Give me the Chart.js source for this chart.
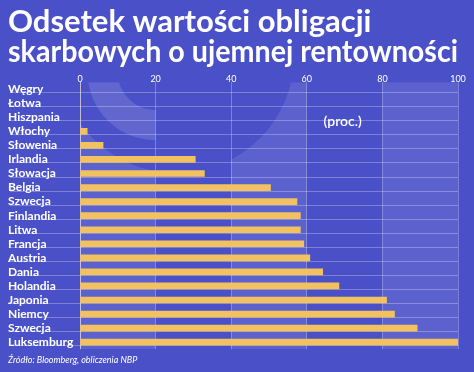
<!DOCTYPE html>
<html lang="pl">
<head>
  <meta charset="UTF-8">
  <title>Odsetek wartości obligacji skarbowych o ujemnej rentowności</title>
  <script src="https://cdn.jsdelivr.net/npm/chart.js"></script>
  <style>
    html, body { margin: 0; padding: 0; background: #4a51c8; }
    #wrap { width: 474px; height: 372px; }
  </style>
</head>
<body>
  <div id="wrap"><canvas id="chart"></canvas></div>

  <script>
    // data
    const countries = ['Węgry', 'Łotwa', 'Hiszpania', 'Włochy', 'Słowenia', 'Irlandia', 'Słowacja', 'Belgia',
      'Szwecja', 'Finlandia', 'Litwa', 'Francja', 'Austria', 'Dania', 'Holandia', 'Japonia', 'Niemcy',
      'Szwecja', 'Luksemburg'];
    const shares = [0, 0, 0, 1.9, 6.1, 30.5, 32.9, 50.4, 57.4, 58.3, 58.3, 59.2, 60.8, 64.2, 68.5, 81.1, 83.2, 89.2, 100];
    const xTicks = [0, 20, 40, 60, 80, 100];

    const BG = '#4a51c8';
    const BAR = '#f3c260';
    const BAR_THICK = 6;
    const LIGHT = 'rgba(255,255,255,0.10)';

    // background with the decorative lighter bands and arcs
    const backdrop = {
      id: 'backdrop',
      beforeDraw(chart) {
        const { ctx, chartArea: a, scales: { x, y } } = chart;
        ctx.save();
        ctx.fillStyle = BG;
        ctx.fillRect(0, 0, chart.width, chart.height);

        ctx.beginPath();
        ctx.rect(a.left, a.top, a.width, a.height);
        ctx.clip();

        // big dark disc in the upper left, lighter columns outside it
        const cx = x.getPixelForValue(25.5), cy = a.top - 27, r = 118;
        ctx.save();
        ctx.beginPath();
        ctx.rect(a.left, a.top, a.width, a.height);
        ctx.arc(cx, cy, r, 0, Math.PI * 2, true);
        ctx.clip('evenodd');
        ctx.fillStyle = LIGHT;
        [[0, 20], [40, 60]].forEach(([v0, v1]) => {
          const p0 = x.getPixelForValue(v0), p1 = x.getPixelForValue(v1);
          ctx.fillRect(p0, a.top, p1 - p0, a.height);
        });
        ctx.restore();

        // right column is light all the way
        const p80 = x.getPixelForValue(80), p100 = x.getPixelForValue(100);
        ctx.fillStyle = LIGHT;
        ctx.fillRect(p80, a.top, p100 - p80, a.height);

        // light quarter ring near the top left, stops at the 20 line
        const p20 = x.getPixelForValue(20);
        ctx.beginPath();
        ctx.rect(a.left, a.top, p20 - a.left, a.height);
        ctx.clip();
        const rx = p20, ry = a.top - 10;
        ctx.beginPath();
        ctx.arc(rx, ry, 68, 0, Math.PI * 2, false);
        ctx.arc(rx, ry, 38, 0, Math.PI * 2, true);
        ctx.fillStyle = 'rgba(255,255,255,0.13)';
        ctx.fill();
        ctx.restore();
      }
    };

    // thin rules along the bottom edge of each bar, running under the labels
    const rules = {
      id: 'rules',
      beforeDatasetsDraw(chart) {
        const { ctx, chartArea: a, scales: { y } } = chart;
        ctx.save();
        ctx.strokeStyle = 'rgba(255,255,255,0.28)';
        ctx.lineWidth = 1;
        countries.forEach((c, i) => {
          const py = Math.round(y.getPixelForValue(i) + BAR_THICK / 2) + 0.5;
          ctx.beginPath();
          ctx.moveTo(10, py);
          ctx.lineTo(a.right, py);
          ctx.stroke();
        });
        ctx.restore();
      },
      afterDraw(chart) {
        const { ctx, scales: { x, y } } = chart;
        ctx.save();
        ctx.fillStyle = '#ffffff';
        ctx.font = '600 14px Lato';
        ctx.textAlign = 'center';
        ctx.textBaseline = 'middle';
        ctx.fillText('(proc.)', x.getPixelForValue(69.5), y.getPixelForValue(2) + 4);
        ctx.restore();
      }
    };

    new Chart(document.getElementById('chart'), {
      type: 'bar',
      data: {
        labels: countries,
        datasets: [{
          data: shares,
          backgroundColor: BAR,
          borderWidth: 0,
          barThickness: BAR_THICK
        }]
      },
      options: {
        indexAxis: 'y',
        responsive: true,
        maintainAspectRatio: false,
        animation: false,
        layout: { padding: { left: 8, right: 16, top: 0, bottom: 7 } },
        plugins: {
          legend: { display: false },
          tooltip: { enabled: false },
          title: {
            display: true,
            text: ['Odsetek wartości obligacji', 'skarbowych o ujemnej rentowności'],
            align: 'start',
            color: '#ffffff',
            font: { family: 'Lato', size: 31, weight: 'bold', lineHeight: 0.97 },
            padding: { top: 7, bottom: 1 }
          },
          subtitle: {
            display: true,
            position: 'bottom',
            text: 'Źródło: Bloomberg, obliczenia NBP',
            align: 'start',
            color: '#ffffff',
            font: { family: 'Lato', size: 9, style: 'italic', lineHeight: 1.2 },
            padding: { top: 5, bottom: 0 }
          }
        },
        scales: {
          x: {
            position: 'top',
            min: 0,
            max: 100,
            afterBuildTicks(scale) { scale.ticks = xTicks.map(v => ({ value: v })); },
            afterFit(scale) { scale.height = 14; },
            ticks: { color: '#ffffff', font: { family: 'Lato', size: 9 }, padding: -2 },
            grid: {
              color: ctx => ctx.tick && ctx.tick.value === 0 ? 'rgba(255,255,255,0.6)' : 'rgba(255,255,255,0.28)',
              drawTicks: false
            },
            border: { display: false }
          },
          y: {
            afterFit(scale) { scale.width = 72; },
            ticks: {
              color: '#ffffff',
              crossAlign: 'far',
              autoSkip: false,
              padding: 0,
              font: { family: 'Lato', size: 12, weight: 'bold' }
            },
            grid: { display: false },
            border: { display: false }
          }
        }
      },
      plugins: [backdrop, rules]
    });
  </script>
</body>
</html>
